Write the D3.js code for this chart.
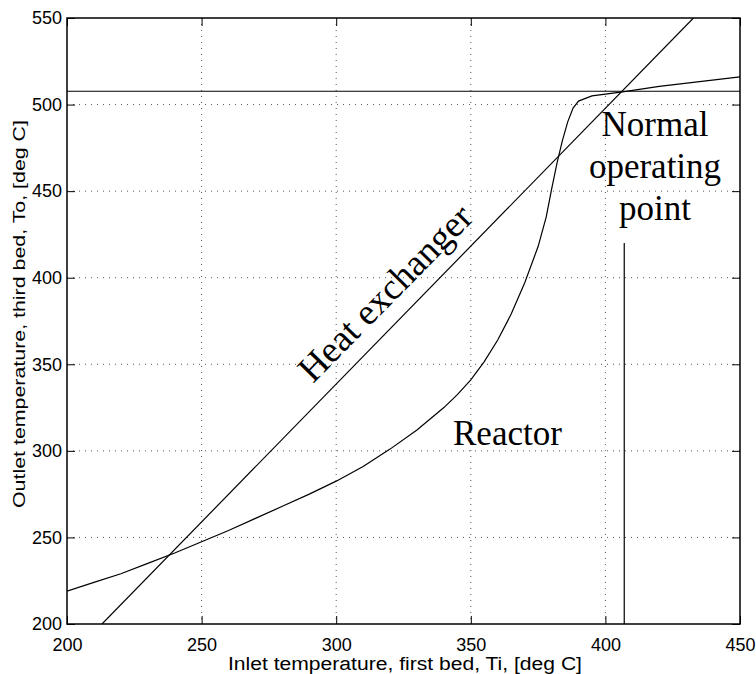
<!DOCTYPE html>
<html>
<head>
<meta charset="utf-8">
<script src="https://cdn.jsdelivr.net/npm/d3@7"></script>
<style>
  html, body { margin: 0; padding: 0; background: #fff; }
  svg { display: block; }
</style>
</head>
<body>
<svg id="chart" width="756" height="674"></svg>
<script>
// Inlet temperature (first bed) vs outlet temperature (third bed)
const xTicks = [200, 250, 300, 350, 400, 450];
const yTicks = [200, 250, 300, 350, 400, 450, 500, 550];

// Reactor steady-state curve
const reactorTi = [200, 210, 220, 230, 240, 250, 260, 270, 280, 290, 300, 310, 320, 330, 340, 345, 350, 355, 360, 365, 370, 375, 378, 380, 382, 384, 386, 388, 390, 395, 400, 407, 420, 450];
const reactorTo = [219, 224, 229, 235, 241, 247.5, 254, 261, 268, 275, 282.5, 291, 301, 312, 325, 332.5, 341, 351.5, 364, 379, 397, 418, 435, 451, 466, 479, 490, 498, 502, 505, 506, 507.5, 510.5, 516];

// Heat exchanger line
const hxTi = [213, 432.7];
const hxTo = [200, 550];

// Operating point markers
const opTo = 507.7;          // horizontal line level
const opTi = 407;            // vertical line position
const opVertical = [200, 420];

const svg = d3.select("#chart");
const margin = { left: 67, top: 18, right: 16, bottom: 50 };
const W = 756, H = 674;
const x = d3.scaleLinear().domain([200, 450]).range([margin.left, W - margin.right]);
const y = d3.scaleLinear().domain([200, 550]).range([H - margin.bottom, margin.top]);

const sans = "'Liberation Sans', Arial, Helvetica, sans-serif";
const serif = "'Liberation Serif', 'Times New Roman', serif";

svg.append("defs").append("clipPath").attr("id", "plot-clip")
  .append("rect")
  .attr("x", x(200)).attr("y", y(550))
  .attr("width", x(450) - x(200)).attr("height", y(200) - y(550));

// dotted grid
const grid = svg.append("g").attr("stroke", "#555").attr("stroke-width", 1)
  .attr("stroke-dasharray", "1,5");
grid.selectAll("line.gx").data(xTicks.slice(1, -1)).join("line")
  .attr("x1", d => x(d)).attr("x2", d => x(d))
  .attr("y1", y(550)).attr("y2", y(200));
grid.selectAll("line.gy").data(yTicks.slice(1, -1)).join("line")
  .attr("y1", d => y(d)).attr("y2", d => y(d))
  .attr("x1", x(200)).attr("x2", x(450));

// axes with inward ticks
const tickLen = 8;
const axB = svg.append("g").attr("transform", `translate(0,${y(200)})`)
  .call(d3.axisBottom(x).tickValues(xTicks).tickSizeInner(-tickLen).tickSizeOuter(0).tickPadding(14));
const axT = svg.append("g").attr("transform", `translate(0,${y(550)})`)
  .call(d3.axisTop(x).tickValues(xTicks).tickSizeInner(-tickLen).tickSizeOuter(0).tickFormat(""));
const axL = svg.append("g").attr("transform", `translate(${x(200)},0)`)
  .call(d3.axisLeft(y).tickValues(yTicks).tickSizeInner(-tickLen).tickSizeOuter(0).tickPadding(5));
const axR = svg.append("g").attr("transform", `translate(${x(450)},0)`)
  .call(d3.axisRight(y).tickValues(yTicks).tickSizeInner(-tickLen).tickSizeOuter(0).tickFormat(""));
[axB, axT, axL, axR].forEach(g => {
  g.select(".domain").remove();
  g.selectAll(".tick line").attr("stroke", "#000").attr("stroke-width", 1);
  g.selectAll("text").attr("font-family", sans).attr("font-size", 18).attr("fill", "#000");
});
axB.selectAll("text").attr("dy", "0.71em");

// box
svg.append("rect")
  .attr("x", x(200)).attr("y", y(550))
  .attr("width", x(450) - x(200)).attr("height", y(200) - y(550))
  .attr("fill", "none").attr("stroke", "#000").attr("stroke-width", 1.5);

const plot = svg.append("g").attr("clip-path", "url(#plot-clip)")
  .attr("fill", "none").attr("stroke", "#000").attr("stroke-width", 1.2);

const line = d3.line().x(d => x(d[0])).y(d => y(d[1]));

plot.append("path").attr("d", line(reactorTi.map((t, i) => [t, reactorTo[i]])));
plot.append("path").attr("d", line(hxTi.map((t, i) => [t, hxTo[i]])));
plot.append("path").attr("d", line([[200, opTo], [450, opTo]]));
plot.append("path").attr("d", line([[opTi, opVertical[0]], [opTi, opVertical[1]]]));

// annotations
const ann = svg.append("g").attr("font-family", serif).attr("font-size", 35).attr("fill", "#000");
ann.append("text").attr("x", 655).attr("y", 136).attr("text-anchor", "middle").text("Normal");
ann.append("text").attr("x", 655).attr("y", 178).attr("text-anchor", "middle").text("operating");
ann.append("text").attr("x", 655).attr("y", 220).attr("text-anchor", "middle").text("point");
ann.append("text").attr("x", 453).attr("y", 445).text("Reactor");
ann.append("text")
  .attr("transform", "translate(313,384) rotate(-45.5)")
  .attr("font-size", 37)
  .text("Heat exchanger");

// axis titles
svg.append("text")
  .attr("x", 405).attr("y", 670)
  .attr("text-anchor", "middle")
  .attr("font-family", sans).attr("font-size", 18)
  .attr("textLength", 354).attr("lengthAdjust", "spacingAndGlyphs")
  .text("Inlet temperature, first bed, Ti, [deg C]");
svg.append("text")
  .attr("transform", "translate(25,314) rotate(-90)")
  .attr("text-anchor", "middle")
  .attr("font-family", sans).attr("font-size", 17)
  .attr("textLength", 388).attr("lengthAdjust", "spacingAndGlyphs")
  .text("Outlet temperature, third bed, To, [deg C]");
</script>
</body>
</html>
